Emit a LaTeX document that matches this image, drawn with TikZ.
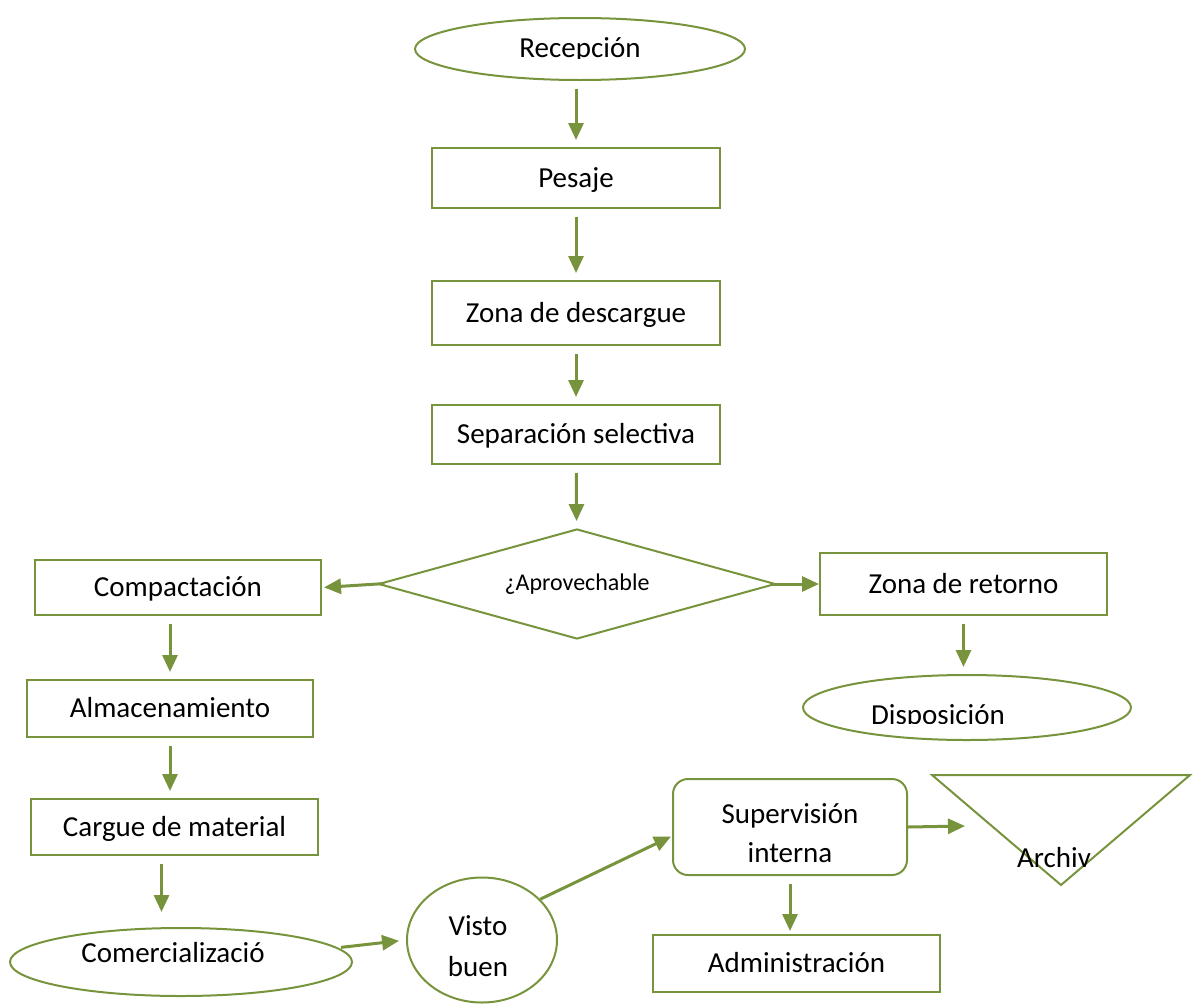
\documentclass[tikz,border=0pt]{standalone}
\usepackage{fontspec}
\setmainfont{Carlito}
\usetikzlibrary{arrows.meta,shapes.geometric}
\definecolor{oliva}{RGB}{119,147,60}
\newcommand{\letra}{\fontsize{29}{35}\selectfont}
\tikzset{proceso/.style = {rectangle, draw=oliva, line width=2pt, minimum width=288pt,
                           minimum height=60pt, inner sep=0pt, text height=20pt,
                           text depth=2pt, font=\letra},
         terminal/.style = {ellipse, draw=oliva, line width=2pt, inner sep=0pt},
         decision/.style = {diamond, draw=oliva, line width=2pt, inner sep=0pt,
                            font=\fontsize{24}{29}\selectfont},
         flecha/.style = {draw=oliva, line width=3pt, -{Triangle[width=15pt,length=17pt]},
                          shorten <=8pt, shorten >=7pt},
         texto/.style = {inner sep=0pt, anchor=base, font=\letra}
        }

\begin{document}
\begin{tikzpicture}[x=1pt, y=-1pt]
  \useasboundingbox (0,0) rectangle (1194,1004);
  % columna central
  \node[terminal, minimum width=330pt, minimum height=62pt] (recepcion) at (580,49) {};
  \node[proceso] (pesaje) at (576,178) {Pesaje};
  \node[proceso, minimum height=64pt] (descargue) at (576,313) {Zona de descargue};
  \node[proceso, minimum height=59pt] (separacion) at (576,434.5) {Separación selectiva};
  \node[decision, aspect=3.6, minimum width=397pt, minimum height=110pt] (aprovechable) at (577,584) {¿Aprovechable};
  % rama izquierda
  \node[proceso, minimum width=286pt, minimum height=55pt] (compactacion) at (178,587.5) {Compactación};
  \node[proceso, minimum width=286pt, minimum height=57pt] (almacenamiento) at (170,708.5) {Almacenamiento};
  \node[proceso, minimum width=287pt, minimum height=56pt] (cargue) at (174.5,827) {Cargue de material};
  \node[terminal, minimum width=342pt, minimum height=68pt] (comercializacion) at (181,962) {};
  % rama derecha
  \node[proceso, minimum width=287pt, minimum height=62pt] (retorno) at (963.5,584) {Zona de retorno};
  \node[terminal, minimum width=328pt, minimum height=65pt] (disposicion) at (967,707.5) {};
  % control
  \node[terminal, minimum width=150pt, minimum height=125pt] (visto) at (482,940) {};
  \node[proceso, rounded corners=15pt, minimum width=234pt, minimum height=96pt] (supervision) at (790,827) {};
  \node[proceso, minimum width=287pt, minimum height=57pt] (administracion) at (796.5,963.5) {Administración};
  \draw[draw=oliva, line width=2pt] (932,775) -- (1190,775) -- (1061,885) -- cycle;
  \coordinate (archivo) at (965,826);
  \node[texto] (tarchivo) at (1054,867) {Archiv};

  % textos recortados
  \begin{scope}
    \clip (400,0) rectangle (760,58);
    \node[texto] (trecepcion) at (580,57) {Recepción};
  \end{scope}
  \begin{scope}
    \clip (0,900) rectangle (360,963);
    \node[texto] (tcomercializacion) at (173,962) {Comercializació};
  \end{scope}
  \begin{scope}
    \clip (800,680) rectangle (1130,723);
    \node[texto] (tdisposicion) at (938,724) {Disposición};
  \end{scope}
  \begin{scope}
    \clip (400,880) rectangle (560,976);
    \node[texto] (tvisto) at (478,935) {Visto};
    \node[texto] (tbuen) at (478,976) {buen};
  \end{scope}
  \begin{scope}
    \clip (680,785) rectangle (900,862);
    \node[texto] (tsupervision) at (790,823) {Supervisión};
    \node[texto] (tinterna) at (790,862) {interna};
  \end{scope}

  % conectores
  \draw[flecha] (recepcion.south -| pesaje.north) -- (pesaje.north);
  \draw[flecha] (pesaje) -- (descargue);
  \draw[flecha] (descargue) -- (separacion);
  \draw[flecha] (separacion) -- (aprovechable);
  \draw[flecha, shorten <=-7pt, shorten >=2pt] (aprovechable.west) -- (compactacion.east);
  \draw[flecha, shorten <=-7pt, shorten >=0pt] (aprovechable.east) -- (retorno.west);
  \draw[flecha] (retorno.south) -- (retorno.south |- disposicion.north);
  \draw[flecha] (compactacion.south -| almacenamiento.north) -- (almacenamiento.north);
  \draw[flecha] (almacenamiento.south) -- (almacenamiento.south |- cargue.north);
  \draw[flecha, shorten >=15pt] ([xshift=-13pt]cargue.south) -- ([xshift=-13pt]cargue.south |- comercializacion.north);
  \draw[flecha, shorten <=-12pt] ([yshift=16pt]comercializacion.east) -- (visto.west);
  \draw[flecha, shorten <=0pt, shorten >=1pt] (visto.35) -- ([yshift=-9pt]supervision.west);
  \draw[flecha, shorten <=0pt, shorten >=0pt] (supervision.east) -- (archivo);
  \draw[flecha, shorten >=3pt] (supervision.south) -- (supervision.south |- administracion.north);
\end{tikzpicture}
\end{document}
